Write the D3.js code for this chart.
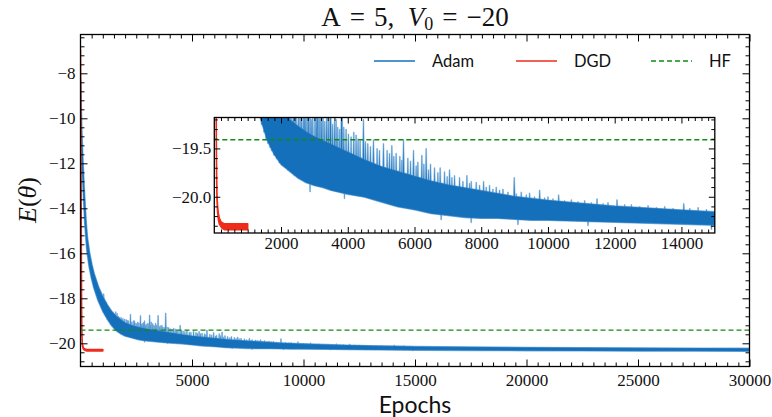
<!DOCTYPE html>
<html>
<head>
<meta charset="utf-8">
<script src="https://cdn.jsdelivr.net/npm/d3@7"></script>
<style>
  html, body { margin: 0; padding: 0; background: #fff; }
  svg { display: block; }
</style>
</head>
<body>
<svg id="chart" width="772" height="417"></svg>
<script>
// ---------------- data ----------------
// Adam: envelope of the noisy energy trace (lower / upper edge of the dense band)
const adamEpochs = [0, 25, 50, 75, 100, 150, 200, 250, 300, 400, 500, 600, 800, 1000, 1200, 1400, 1600, 1800,
  2000, 2250, 2500, 2750, 3000, 3250, 3500, 3750, 4000, 4500, 5000, 5500, 6000, 6500, 7000, 7500, 8000, 8500,
  9000, 9500, 10000, 11000, 12000, 13000, 14000, 15000, 17500, 20000, 22500, 25000, 27500, 30000];
const adamLow = [-8.9, -10.2, -11.2, -11.9, -12.5, -13.6, -14.6, -15.3, -15.9, -16.6, -17.1, -17.5, -18.1, -18.55,
  -18.9, -19.2, -19.42, -19.56, -19.66, -19.73, -19.8, -19.85, -19.88, -19.9, -19.93, -19.95, -19.97, -20.0,
  -20.05, -20.1, -20.13, -20.17, -20.19, -20.21, -20.22, -20.22, -20.23, -20.24, -20.24, -20.25, -20.26,
  -20.27, -20.28, -20.29, -20.3, -20.31, -20.32, -20.33, -20.33, -20.34];
const adamHigh = [-8.3, -9.6, -10.6, -11.3, -11.9, -13.0, -13.9, -14.7, -15.3, -16.0, -16.5, -16.9, -17.5, -17.95,
  -18.3, -18.6, -18.8, -18.95, -19.1, -19.2, -19.27, -19.33, -19.38, -19.42, -19.46, -19.5, -19.54, -19.62,
  -19.69, -19.74, -19.79, -19.84, -19.88, -19.91, -19.94, -19.97, -20.0, -20.02, -20.04, -20.07, -20.1,
  -20.12, -20.14, -20.16, -20.18, -20.2, -20.21, -20.22, -20.23, -20.24];
// Adam: individual upward spikes (epoch, peak energy)
const adamSpikeEpochs = [1040, 1150, 1300, 1450, 1640, 1750, 1900, 2050, 2150, 2240, 2370, 2450, 2570, 2690, 2780,
  2870, 2950, 3020, 3100, 3170, 3260, 3370, 3480, 3600, 3700, 3820, 3950, 4100, 4250, 4370, 4470, 4600, 4770,
  4880, 5070, 5180, 5320, 5450, 5560, 5670, 5800, 5970, 6100, 6220, 6350, 6480, 6600, 6770, 6900, 7050, 7200,
  7350, 7570, 7700, 7850, 8070, 8250, 8450, 8650, 8990, 9200, 9450, 9750, 10000, 10320, 10700, 11100, 11470,
  11800, 12070, 12500, 13000, 13500, 14070, 14500,
  1100, 1220, 1380, 1520, 1580, 1700, 1820, 1980, 2100, 2300, 2420, 2520, 2620, 2740, 2820, 2920, 3060, 3140,
  3220, 3310, 3420, 3540, 3650, 3760, 3880, 4020, 4180, 4310, 4530, 4680, 4950, 5250, 5380, 5620, 5880, 6050,
  6280, 6420, 6700, 6980, 7120, 7450, 7650, 7950, 8150, 8350, 8550, 8800, 9050, 9350, 9600, 9900, 10150,
  10500, 10900, 11300, 11650, 12300, 12750, 13250, 13750, 14250, 14750];
const adamSpikeValues = [-17.8, -18.2, -18.5, -18.6, -18.67, -18.85, -18.9, -18.95, -19.0, -18.71, -19.0, -19.1,
  -19.05, -18.76, -19.12, -19.0, -19.15, -19.1, -18.74, -19.05, -19.18, -19.1, -18.76, -19.22, -19.28, -18.65,
  -19.3, -19.38, -19.36, -19.42, -19.2, -19.45, -19.41, -19.5, -19.45, -19.52, -19.47, -19.55, -19.58, -19.41,
  -19.6, -19.52, -19.64, -19.57, -19.5, -19.66, -19.7, -19.7, -19.74, -19.72, -19.78, -19.8, -19.78, -19.84,
  -19.85, -19.84, -19.88, -19.9, -19.92, -19.8, -19.95, -19.96, -19.93, -20.0, -19.98, -20.03, -20.04, -20.02,
  -20.06, -20.03, -20.08, -20.09, -20.1, -20.07, -20.11,
  -18.3, -18.45, -18.55, -18.75, -18.6, -18.8, -18.85, -18.92, -18.98, -19.05, -19.0, -19.12, -19.1, -19.15,
  -19.08, -19.2, -19.18, -19.2, -19.12, -19.22, -19.2, -19.25, -19.2, -19.3, -19.28, -19.35, -19.33, -19.4,
  -19.43, -19.48, -19.52, -19.55, -19.58, -19.62, -19.63, -19.68, -19.66, -19.72, -19.75, -19.79, -19.8,
  -19.84, -19.86, -19.88, -19.9, -19.92, -19.93, -19.95, -19.97, -19.98, -20.0, -20.01, -20.02, -20.04,
  -20.05, -20.06, -20.07, -20.08, -20.1, -20.11, -20.12, -20.12, -20.13];
// Adam: downward dips below the band
const adamDipEpochs = [2870, 3900, 6800, 7700, 9100, 11200, 14900];
const adamDipValues = [-19.95, -20.02, -20.24, -20.27, -20.29, -20.3, -20.34];

// DGD: envelope of the energy trace
const dgdEpochs = [0, 10, 20, 30, 40, 50, 60, 70, 80, 90, 100, 120, 150, 200, 250, 300, 400, 500, 600, 700, 800, 900, 1000];
const dgdLow = [-6.95, -9.0, -11.5, -14.0, -16.5, -18.5, -19.4, -19.82, -20.02, -20.1, -20.16, -20.23, -20.28,
  -20.31, -20.33, -20.34, -20.34, -20.34, -20.34, -20.34, -20.34, -20.34, -20.34];
const dgdHigh = [-6.95, -9.0, -11.5, -14.0, -16.5, -18.5, -19.4, -19.78, -19.97, -20.05, -20.1, -20.17, -20.22,
  -20.26, -20.27, -20.28, -20.28, -20.28, -20.28, -20.28, -20.28, -20.28, -20.28];

// Hartree-Fock reference energy
const hfEnergy = -19.41;

// ticks
const mainXTicks = [5000, 10000, 15000, 20000, 25000, 30000];
const mainYTicks = [-20, -18, -16, -14, -12, -10, -8];
const insetXTicks = [2000, 4000, 6000, 8000, 10000, 12000, 14000];
const insetYTicks = [-20.0, -19.5];
const legendLabels = ["Adam", "DGD", "HF"];

// ---------------- styles ----------------
const C_ADAM = "#1570bb", C_ADAM_EDGE = "#7db1de", C_DGD = "#ef2b1b", C_HF = "#128a12";
const SERIF = "'Liberation Serif', 'DejaVu Serif', serif";
const SANS = "Lato, 'DejaVu Sans', sans-serif";

const svg = d3.select("#chart");
svg.append("rect").attr("width", 772).attr("height", 417).attr("fill", "#fff");

const highAt = d3.scaleLinear(adamEpochs, adamHigh);
const lowAt = d3.scaleLinear(adamEpochs, adamLow);

function drawPanel(g, xs, ys, id, o) {
  const [x0, x1] = xs.range(), [y0, y1] = ys.range(); // y0 bottom, y1 top
  g.append("rect").attr("x", x0).attr("y", y1).attr("width", x1 - x0).attr("height", y0 - y1).attr("fill", "#fff");
  g.append("clipPath").attr("id", id).append("rect")
    .attr("x", x0).attr("y", y1).attr("width", x1 - x0).attr("height", y0 - y1);
  const plot = g.append("g").attr("clip-path", `url(#${id})`);

  const idx = d3.range(adamEpochs.length);
  const band = d3.area().x(i => xs(adamEpochs[i])).y0(i => ys(adamLow[i])).y1(i => ys(adamHigh[i]));
  plot.append("path").attr("d", band(idx)).attr("fill", C_ADAM_EDGE)
    .attr("stroke", C_ADAM_EDGE).attr("stroke-width", 2.2).attr("stroke-linejoin", "round");

  // spikes as narrow wedges rising from the band
  const hw = o.spikeHalf;
  plot.append("g").selectAll("path").data(adamSpikeEpochs).join("path")
    .attr("d", (e, i) => {
      const xe = xs(e), yb = ys(lowAt(e)), yp = ys(adamSpikeValues[i]);
      return `M${xe - hw},${yb}L${xe - 0.35},${yp}L${xe + 0.35},${yp}L${xe + hw},${yb}Z`;
    })
    .attr("fill", C_ADAM).attr("stroke", C_ADAM_EDGE).attr("stroke-width", 0.6);
  plot.append("g").selectAll("path").data(adamDipEpochs).join("path")
    .attr("d", (e, i) => {
      const xe = xs(e), yb = ys(highAt(e)), yp = ys(adamDipValues[i]);
      return `M${xe - hw},${yb}L${xe - 0.35},${yp}L${xe + 0.35},${yp}L${xe + hw},${yb}Z`;
    })
    .attr("fill", C_ADAM).attr("stroke", C_ADAM_EDGE).attr("stroke-width", 0.6);

  plot.append("path").attr("d", band(idx)).attr("fill", C_ADAM).attr("stroke", C_ADAM).attr("stroke-width", 0.8);

  const didx = d3.range(dgdEpochs.length);
  const dband = d3.area().x(i => xs(dgdEpochs[i])).y0(i => ys(dgdLow[i])).y1(i => ys(dgdHigh[i]));
  plot.append("path").attr("d", dband(didx)).attr("fill", C_DGD).attr("stroke", C_DGD)
    .attr("stroke-width", 1.6).attr("stroke-linejoin", "round");

  plot.append("line").attr("x1", x0).attr("x2", x1).attr("y1", ys(hfEnergy)).attr("y2", ys(hfEnergy))
    .attr("stroke", C_HF).attr("stroke-width", 1.3).attr("stroke-dasharray", "5,3");

  // axes: inward ticks on all four sides
  const minorX = o.minorX.filter(v => !o.xTicks.includes(v));
  const minorY = o.minorY.filter(v => !o.yTicks.some(t => Math.abs(t - v) < 1e-9));
  const styleAxis = a => {
    a.select(".domain").remove();
    a.selectAll("line").attr("stroke", "#000").attr("stroke-width", 1);
    a.selectAll("text").attr("font-family", SERIF).attr("font-size", o.fs).attr("fill", "#111");
  };
  const addAxis = (gen, tr) => g.append("g").attr("transform", tr).call(gen).call(styleAxis);
  addAxis(d3.axisBottom(xs).tickValues(o.xTicks).tickSize(-o.maj).tickPadding(o.padX).tickFormat(d3.format("d")), `translate(0,${y0})`);
  addAxis(d3.axisBottom(xs).tickValues(minorX).tickSize(-o.min).tickFormat(""), `translate(0,${y0})`);
  addAxis(d3.axisTop(xs).tickValues(o.xTicks).tickSize(-o.maj).tickFormat(""), `translate(0,${y1})`);
  addAxis(d3.axisTop(xs).tickValues(minorX).tickSize(-o.min).tickFormat(""), `translate(0,${y1})`);
  addAxis(d3.axisLeft(ys).tickValues(o.yTicks).tickSize(-o.maj).tickPadding(o.padY).tickFormat(o.fmtY), `translate(${x0},0)`);
  addAxis(d3.axisLeft(ys).tickValues(minorY).tickSize(-o.min).tickFormat(""), `translate(${x0},0)`);
  addAxis(d3.axisRight(ys).tickValues(o.yTicks).tickSize(-o.maj).tickFormat(""), `translate(${x1},0)`);
  addAxis(d3.axisRight(ys).tickValues(minorY).tickSize(-o.min).tickFormat(""), `translate(${x1},0)`);

  g.append("rect").attr("x", x0).attr("y", y1).attr("width", x1 - x0).attr("height", y0 - y1)
    .attr("fill", "none").attr("stroke", "#000").attr("stroke-width", 1.3);
}

// ---------------- main panel ----------------
const x = d3.scaleLinear([0, 30000], [80.5, 749.5]);
const y = d3.scaleLinear([-21.031, -6.275], [366.5, 34.5]);
drawPanel(svg.append("g"), x, y, "clipMain", {
  xTicks: mainXTicks, yTicks: mainYTicks,
  minorX: d3.range(1, 60).map(k => k * 500),
  minorY: d3.range(-52, -15).map(k => +(k * 0.4).toFixed(1)),
  fmtY: d3.format("d"), fs: 17, maj: 7, min: 4, padX: 7, padY: 5, spikeHalf: 0.9
});

// legend
const legend = svg.append("g").attr("font-family", SANS).attr("font-size", 16.5).attr("fill", "#111");
const legX = [374, 516, 651];
legendLabels.forEach((lab, i) => {
  const ln = legend.append("line").attr("x1", legX[i]).attr("x2", legX[i] + 41).attr("y1", 61).attr("y2", 61)
    .attr("stroke", [C_ADAM, C_DGD, C_HF][i]).attr("stroke-width", 1.5);
  if (lab === "HF") ln.attr("stroke-dasharray", "5,3").attr("stroke-width", 1.3);
  legend.append("text").attr("x", legX[i] + 58).attr("y", 66.5).text(lab);
});

// ---------------- inset panel ----------------
const ix = d3.scaleLinear([0, 15000], [214.3, 714.8]);
const iy = d3.scaleLinear([-20.375, -19.18], [233, 117.5]);
drawPanel(svg.append("g"), ix, iy, "clipInset", {
  xTicks: insetXTicks, yTicks: insetYTicks,
  minorX: d3.range(1, 75).map(k => k * 200),
  minorY: d3.range(-203, -191).map(k => k / 10),
  fmtY: d3.format(".1f"), fs: 17, maj: 6, min: 3.5, padX: 4, padY: 3, spikeHalf: 1.5
});

// ---------------- titles ----------------
const title = svg.append("text").attr("x", 415).attr("y", 26).attr("text-anchor", "middle")
  .attr("font-family", SERIF).attr("font-size", 27).attr("fill", "#111");
title.append("tspan").text("A\u2004=\u20045,\u2002");
title.append("tspan").attr("font-style", "italic").text("V");
title.append("tspan").attr("font-size", 18).attr("dy", 4).text("0");
title.append("tspan").attr("dy", -4).text("\u2004=\u2004\u221220");

svg.append("text").attr("x", 415).attr("y", 413).attr("text-anchor", "middle")
  .attr("font-family", SANS).attr("font-size", 23).attr("fill", "#111").text("Epochs");

const ylab = svg.append("text").attr("transform", "translate(36,200) rotate(-90)").attr("text-anchor", "middle")
  .attr("font-family", SERIF).attr("font-size", 26).attr("fill", "#111");
ylab.append("tspan").attr("font-style", "italic").text("E");
ylab.append("tspan").text("(");
ylab.append("tspan").attr("font-style", "italic").text("θ");
ylab.append("tspan").text(")");
</script>
</body>
</html>
